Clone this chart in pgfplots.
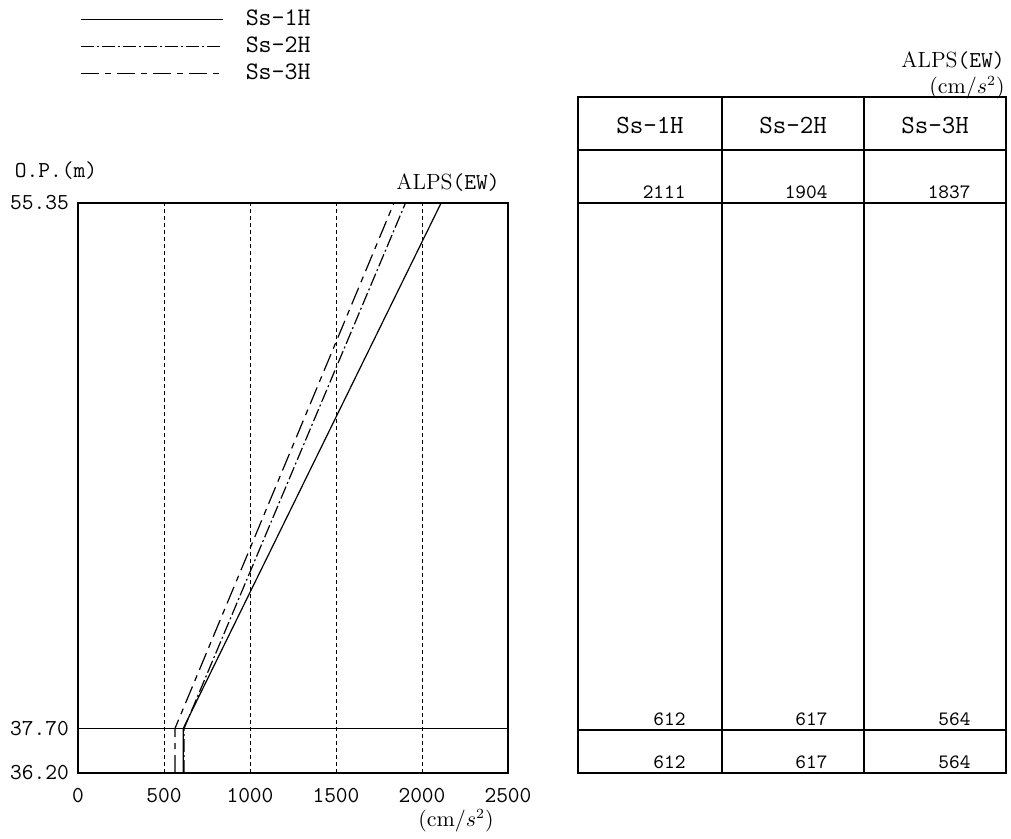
\documentclass[border=0pt]{standalone}
\usepackage{pgfplots}
\pgfplotsset{compat=1.18}
\newcommand\tf[1]{\ttfamily\fontsize{#1}{#1}\selectfont}
\newcommand\rf[1]{\rmfamily\fontsize{#1}{#1}\selectfont}
\begin{document}
\begin{tikzpicture}[x=0.5pt,y=0.5pt]
\begin{axis}[scale only axis,
  width=215pt, height=285pt,
  xmin=0, xmax=2500, ymin=36.2, ymax=55.35,
  axis line style={line width=1.1pt},
  xtick={0,500,1000,1500,2000,2500},
  ytick={36.2,37.7,55.35}, yticklabels={36.20,37.70,55.35},
  major tick length=0pt,
  tick label style={font=\tf{11.4}},
  xticklabel style={yshift=-4pt},
  yticklabel style={xshift=-1pt},
  /pgf/number format/assume math mode=true,
  /pgf/number format/1000 sep={},
  xmajorgrids, major grid style={draw=black, line width=0.45pt, dash pattern=on 2pt off 1.5pt},
  legend style={at={(rel axis cs:0.005,1.3465)}, anchor=north west, draw=none, fill=none,
    inner sep=0pt, row sep=0pt, font=\tf{12.6},
    nodes={inner ysep=2pt, text height=8pt, text depth=1.5pt}},
  legend cell align=left,
  legend image code/.code={\draw[#1] (0pt,0pt) -- (71pt,0pt);},
]
\addplot[black, line width=0.6pt, solid] coordinates {(612,36.2) (612,37.7) (2111,55.35)};
\addlegendentry{\hspace*{9pt}Ss-1H}
\addplot[black, line width=0.6pt, dash pattern=on 6.5pt off 1.5pt on 1pt off 1.5pt] coordinates {(617,36.2) (617,37.7) (1904,55.35)};
\addlegendentry{\hspace*{9pt}Ss-2H}
\addplot[black, line width=0.6pt, dash pattern=on 9pt off 3pt on 3pt off 3pt] coordinates {(564,36.2) (564,37.7) (1837,55.35)};
\addlegendentry{\hspace*{9pt}Ss-3H}
\draw[black, line width=0.5pt] (axis cs:0,37.7) -- (axis cs:2500,37.7);
\end{axis}
\begin{scope}[shift={(-78,-59)}]
\path (0,0) rectangle (1011,832);
\node[font=\tf{11.4}] at (56,661) {O.P.(m)};
\node[anchor=east, inner xsep=0pt] at (500,649) {\rf{11}ALPS\tf{11.4}(EW)};
\node[font=\rf{10.5}, anchor=east, inner xsep=0pt] at (494,11) {$(\mathrm{cm}/s^2)$};
\node[anchor=east, inner xsep=0pt, inner ysep=1pt] at (1005,771) {\rf{11}ALPS\tf{11.4}(EW)};
\node[font=\rf{10.5}, anchor=east, inner xsep=0pt, inner ysep=1pt] at (1005,744) {$(\mathrm{cm}/s^2)$};
% table
\draw[line width=1.2pt] (578,735) rectangle (1006,59);
\draw[line width=1.2pt] (722,735)--(722,59) (864,735)--(864,59)
  (578,682)--(1006,682) (578,629)--(1006,629) (578,102)--(1006,102);
\foreach \x/\t in {650/Ss-1H, 793/Ss-2H, 935/Ss-3H}
  \node[font=\tf{13.1}] at (\x,707) {\t};
\foreach \x/\a/\b/\c in {686/2111/612/612, 828/1904/617/617, 971/1837/564/564}{
  \node[font=\tf{10.2}, anchor=east, inner xsep=0pt] at (\x,640) {\a};
  \node[font=\tf{10.2}, anchor=east, inner xsep=0pt] at (\x,113) {\b};
  \node[font=\tf{10.2}, anchor=east, inner xsep=0pt] at (\x,70) {\c};
}
\end{scope}
\end{tikzpicture}
\end{document}
